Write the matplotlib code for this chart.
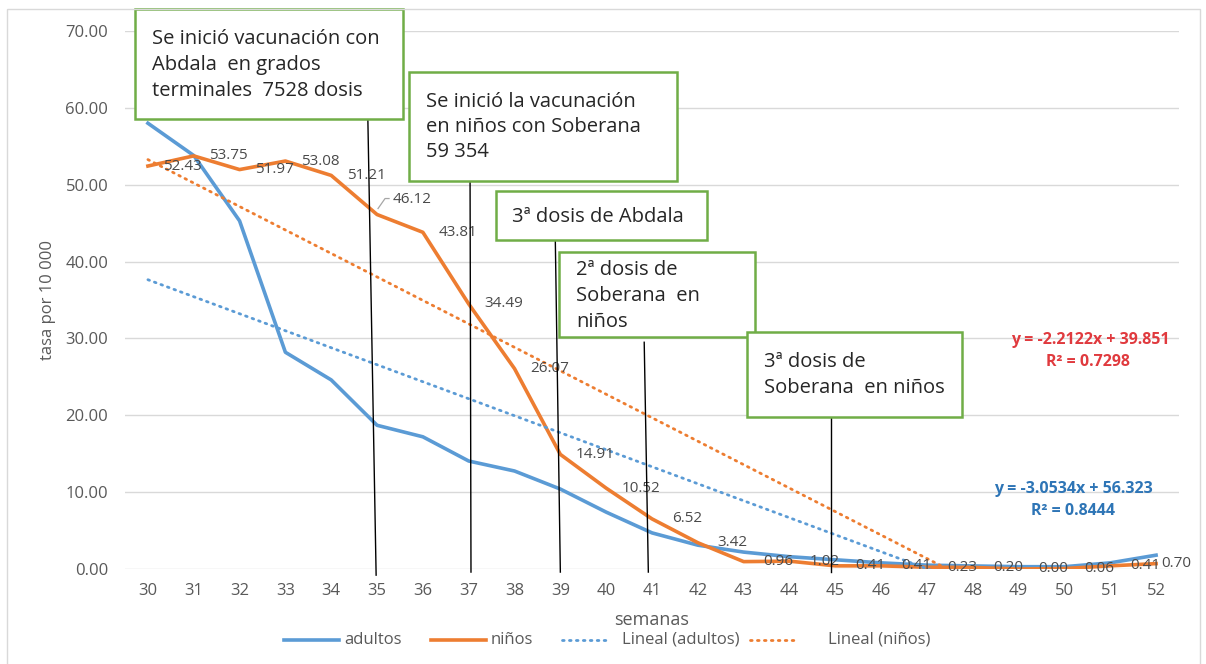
import matplotlib
matplotlib.use('Agg')
import matplotlib.pyplot as plt
import numpy as np
from matplotlib.patches import Rectangle

# ---------------- data ----------------
weeks = list(range(30, 53))
adultos = [58.0, 53.8, 45.3, 28.2, 24.6, 18.7, 17.2, 14.05, 12.75, 10.4, 7.4, 4.7,
           3.1, 2.2, 1.6, 1.2, 0.8, 0.5, 0.4, 0.3, 0.3, 0.8, 1.8]
ninos = [52.43, 53.75, 51.97, 53.08, 51.21, 46.12, 43.81, 34.49, 26.07, 14.91, 10.52,
         6.52, 3.42, 0.96, 1.02, 0.41, 0.41, 0.23, 0.20, 0.00, 0.06, 0.41, 0.70]
trend_adultos = (-2.2122, 39.851)   # slope, intercept (x = 1..23)
trend_ninos = (-3.0534, 56.323)
eq_red = ["y = -2.2122x + 39.851", "R² = 0.7298"]
eq_blue = ["y = -3.0534x + 56.323", "R² = 0.8444"]
yticks = [0, 10, 20, 30, 40, 50, 60, 70]
series_names = ["adultos", "niños", "Lineal (adultos)", "Lineal (niños)"]
notes = [
    ["Se inició vacunación con", "Abdala  en grados", "terminales  7528 dosis"],
    ["Se inició la vacunación", "en niños con Soberana", "59 354"],
    ["3ª dosis de Abdala"],
    ["2ª dosis de", "Soberana  en", "niños"],
    ["3ª dosis de", "Soberana  en niños"],
]
# leader lines: (week_top, value_top, week_bottom, value_bottom)
leaders = [(34.80, 58.4, 34.98, -0.8), (37.03, 50.3, 37.05, -0.4),
           (38.89, 42.8, 39.0, -0.4), (40.83, 29.5, 40.92, -0.4),
           (44.91, 19.6, 44.91, -0.4)]

# ---------------- style ----------------
W, H = 1206, 664
FONT = 'Open Sans'
plt.rcParams['font.family'] = [FONT, 'DejaVu Sans']
BLUE = '#5b9bd5'
ORANGE = '#ed7d31'
GRAY = '#595959'
GREEN = '#70ad47'

fig = plt.figure(figsize=(W / 100, H / 100), dpi=100)
ax = fig.add_axes([125 / W, 1 - 569 / H, (1179 - 125) / W, (569 - 31) / H])
ov = fig.add_axes([0, 0, 1, 1], zorder=5)
ov.set_xlim(0, W)
ov.set_ylim(H, 0)
ov.axis('off')

# main series
lw_main = 2.6
lw_dot = 2.0
dot = (0, (0.6, 1.9))
l1, = ax.plot(weeks, adultos, color=BLUE, lw=lw_main, solid_joinstyle='round', zorder=3)
l2, = ax.plot(weeks, ninos, color=ORANGE, lw=lw_main, solid_joinstyle='round', zorder=3)
idx = np.arange(1, len(weeks) + 1)
ta = trend_adultos[0] * idx + trend_adultos[1]
tn = trend_ninos[0] * idx + trend_ninos[1]
ax.plot(weeks, ta, color=BLUE, lw=lw_dot, ls=dot, dash_capstyle='round', zorder=4)
ax.plot(weeks, tn, color=ORANGE, lw=lw_dot, ls=dot, dash_capstyle='round', zorder=4)

ax.set_xlim(29.5, 52.5)
ax.set_ylim(0, 70)
ax.set_yticks(yticks)
ax.set_yticklabels([f"{v:.2f}" for v in yticks])
ax.set_xticks(weeks)
ax.set_xticklabels([str(w) for w in weeks])
ax.tick_params(axis='y', length=0, pad=12, labelsize=12, labelcolor=GRAY)
ax.tick_params(axis='x', length=0, pad=10, labelsize=12, labelcolor=GRAY)
ax.yaxis.grid(True, color='#d9d9d9', lw=1)
ax.set_axisbelow(True)
for s in ax.spines.values():
    s.set_visible(False)

# data labels for niños
LBL = dict(fontsize=11, color='#4a4a4a', zorder=6, va='center')
for i, (w, v) in enumerate(zip(weeks, ninos)):
    txt = f"{v:.2f}"
    if i == 5:
        ax.annotate(txt, (w, v), xytext=(16, 15.5), textcoords='offset pixels', ha='left', **LBL)
        p = ax.transData.transform((w, v))
        xs = [p[0] + 1, p[0] + 8, p[0] + 12]
        ys = [p[1] + 6, p[1] + 16, p[1] + 16]
        ov.plot(xs, [H - y for y in ys], color='#a6a6a6', lw=0.9)
    elif i == len(weeks) - 1:
        ax.annotate(txt, (w, v), xytext=(5, 0), textcoords='offset pixels', ha='left', **LBL)
    else:
        ax.annotate(txt, (w, v), xytext=(35, 0), textcoords='offset pixels', ha='center', **LBL)

# leader lines (drawn in data coords)
for (x0, y0, x1, y1) in leaders:
    ax.plot([x0, x1], [y0, y1], color='black', lw=1.0, clip_on=False, zorder=7)

# callout boxes (pixel layout)
boxes = [(135, 9, 403, 119), (409, 72, 677, 181), (496, 191, 707, 240),
         (559, 252, 755, 337), (747, 332, 962, 417)]
text_pos = [(152, [39, 65, 91]), (426, [102, 127, 152]), (512, [217]),
            (576, [270, 296, 322]), (764, [362, 388])]
for (x0, y0, x1, y1), (tx, tys), lines in zip(boxes, text_pos, notes):
    ov.add_patch(Rectangle((x0, y0), x1 - x0, y1 - y0, facecolor='white',
                           edgecolor=GREEN, lw=1.8))
    for ty, line in zip(tys, lines):
        ov.text(tx, ty, line, ha='left', va='center', fontsize=14.5, color='#262626')

# trendline equations
EQ = dict(ha='center', va='center', fontsize=11.5, fontweight='bold')
ov.text(1090, 340, eq_red[0], color='#e03a3e', **EQ)
ov.text(1088, 362, eq_red[1], color='#e03a3e', **EQ)
ov.text(1073, 489, eq_blue[0], color='#2e75b6', **EQ)
ov.text(1073, 511, eq_blue[1], color='#2e75b6', **EQ)

# axis titles
ov.text(652, 620, "semanas", ha='center', va='center', fontsize=13, color=GRAY)
ov.text(48, 300, "tasa por 10 000", ha='center', va='center', rotation=90, fontsize=12, color=GRAY)

# outer chart border
ov.add_patch(Rectangle((7, 9), 1193, 700, facecolor='none', edgecolor='#d9d9d9', lw=1))

# legend (manual layout, Excel-like)
LY = 640
leg = [(BLUE, '-', lw_main, 284, 339, 344), (ORANGE, '-', lw_main, 431, 486, 491),
       (BLUE, dot, lw_dot, 562, 606, 622), (ORANGE, dot, lw_dot, 750, 794, 828)]
for (c, ls, lw, hx0, hx1, tx), name in zip(leg, series_names):
    ov.plot([hx0, hx1], [LY, LY], color=c, lw=lw, ls=ls, dash_capstyle='round')
    ov.text(tx, LY, name, ha='left', va='center', fontsize=12, color=GRAY)

fig.savefig('out.png', dpi=100)
